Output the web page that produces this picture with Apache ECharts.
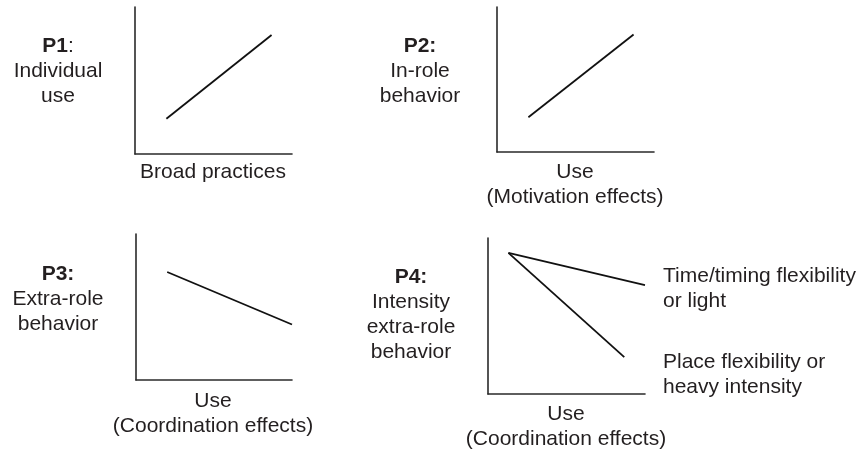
<!DOCTYPE html>
<html>
<head>
<meta charset="utf-8">
<script src="https://cdn.jsdelivr.net/npm/echarts@6/dist/echarts.min.js"></script>
<style>
html,body{margin:0;padding:0;background:#fff;}
#chart{width:859px;height:450px;}
</style>
</head>
<body>
<div id="chart"></div>
<script>
// ---- data (axis range 0..10 in each panel) ----
const p1Line = [[2.0, 2.4], [8.7, 8.1]];
const p2Line = [[2.0, 2.4], [8.7, 8.1]];
const p3Line = [[2.0, 7.4], [10.0, 3.8]];
const p4LineTime = [[1.3, 9.05], [10.0, 6.98]];
const p4LinePlace = [[1.3, 9.05], [8.68, 2.36]];

const panelTags = ['P1', 'P2:', 'P3:', 'P4:'];
const yTitles = ['Individual\nuse', 'In-role\nbehavior', 'Extra-role\nbehavior', 'Intensity\nextra-role\nbehavior'];
const xTitles = ['Broad practices', 'Use\n(Motivation effects)', 'Use\n(Coordination effects)', 'Use\n(Coordination effects)'];
const seriesLabels = ['Time/timing flexibility\nor light', 'Place flexibility or\nheavy intensity'];

// ---- layout ----
const grids = [
  {left: 135, top: 7, width: 157, height: 147},
  {left: 497, top: 7, width: 157, height: 145},
  {left: 136, top: 234, width: 156, height: 146},
  {left: 488, top: 238, width: 157, height: 156}
];
const FONT = '"Liberation Sans", Arial, Helvetica, sans-serif';
const TXT = '#231f20';
const FS = 21;

const axisCommon = {
  type: 'value', min: 0, max: 10,
  axisLine: {show: true, onZero: false, lineStyle: {color: '#2a2a2a', width: 1.6}},
  axisTick: {show: false}, axisLabel: {show: false}, splitLine: {show: false}
};
const xAxes = grids.map((g, i) => Object.assign({gridIndex: i}, axisCommon));
const yAxes = grids.map((g, i) => Object.assign({gridIndex: i}, axisCommon));

function lineSeries(data, i) {
  return {type: 'line', xAxisIndex: i, yAxisIndex: i, data: data, symbol: 'none', silent: true,
    lineStyle: {color: '#111', width: 1.8}};
}

const leftPos = [[58, 71], [420, 71], [58, 299], [411, 315]];
const bottomPos = [[213, 172], [575, 185], [213, 414], [566, 427]];
const rightPos = [[663, 289], [663, 375]];

const graphics = [];
for (let i = 0; i < 4; i++) {
  const tag = panelTags[i];
  let head;
  if (tag.endsWith(':')) head = '{b|' + tag + '}';
  else head = '{b|' + tag + '}{n|:}';
  graphics.push({
    type: 'text', x: leftPos[i][0], y: leftPos[i][1], silent: true,
    style: {
      text: head + '\n' + yTitles[i].split('\n').map(s => '{n|' + s + '}').join('\n'),
      align: 'center', verticalAlign: 'middle',
      rich: {
        b: {fontFamily: FONT, fontSize: FS, fontWeight: 'bold', fill: TXT, lineHeight: 25},
        n: {fontFamily: FONT, fontSize: FS, fill: TXT, lineHeight: 25}
      }
    }
  });
  graphics.push({
    type: 'text', x: bottomPos[i][0], y: bottomPos[i][1], silent: true,
    style: {text: xTitles[i], align: 'center', verticalAlign: 'middle',
      font: FS + 'px ' + FONT, fill: TXT, lineHeight: 25}
  });
}
for (let k = 0; k < 2; k++) {
  graphics.push({
    type: 'text', x: rightPos[k][0], y: rightPos[k][1], silent: true,
    style: {text: seriesLabels[k], align: 'left', verticalAlign: 'middle',
      font: FS + 'px ' + FONT, fill: TXT, lineHeight: 25}
  });
}

const chart = echarts.init(document.getElementById('chart'), null, {renderer: 'canvas'});
chart.setOption({
  animation: false,
  backgroundColor: '#fff',
  grid: grids,
  xAxis: xAxes,
  yAxis: yAxes,
  series: [
    lineSeries(p1Line, 0),
    lineSeries(p2Line, 1),
    lineSeries(p3Line, 2),
    lineSeries(p4LineTime, 3),
    lineSeries(p4LinePlace, 3)
  ],
  graphic: graphics
});
</script>
</body>
</html>
